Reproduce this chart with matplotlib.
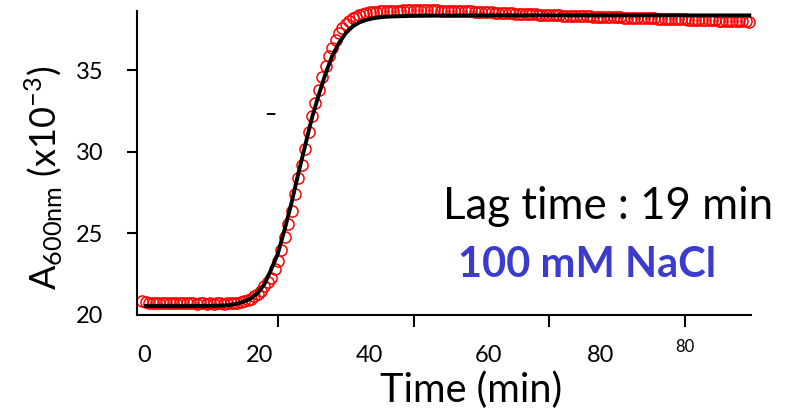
import numpy as np
import matplotlib.pyplot as plt

# absorbance readings every 0.5 min (x10^-3)
time_min = np.arange(0, 90, 0.5)
absorb = [
    20.85, 20.78, 20.75, 20.74, 20.73, 20.74, 20.72, 20.73, 20.72, 20.74,
    20.72, 20.71, 20.73, 20.72, 20.71, 20.72, 20.70, 20.71, 20.72, 20.70,
    20.71, 20.70, 20.71, 20.72, 20.70, 20.71, 20.72, 20.74, 20.76, 20.80,
    20.85, 20.92, 21.00, 21.15, 21.30, 21.50, 21.75, 22.00, 22.30, 22.80,
    23.30, 24.00, 24.80, 25.60, 26.40, 27.40, 28.40, 29.20, 30.20, 31.20,
    32.20, 33.00, 33.80, 34.60, 35.30, 35.90, 36.40, 36.90, 37.30, 37.60,
    37.85, 38.05, 38.20, 38.30, 38.40, 38.47, 38.52, 38.56, 38.58, 38.60,
    38.62, 38.63, 38.64, 38.65, 38.66, 38.67, 38.67, 38.68, 38.68, 38.68,
    38.69, 38.68, 38.69, 38.68, 38.68, 38.69, 38.68, 38.68, 38.67, 38.67,
    38.67, 38.66, 38.66, 38.65, 38.64, 38.63, 38.62, 38.62, 38.61, 38.60,
    38.59, 38.58, 38.57, 38.56, 38.55, 38.54, 38.53, 38.52, 38.51, 38.50,
    38.49, 38.48, 38.47, 38.46, 38.45, 38.44, 38.44, 38.43, 38.42, 38.41,
    38.40, 38.39, 38.39, 38.38, 38.37, 38.36, 38.36, 38.35, 38.34, 38.34,
    38.33, 38.32, 38.32, 38.31, 38.30, 38.30, 38.29, 38.28, 38.28, 38.27,
    38.26, 38.26, 38.25, 38.24, 38.24, 38.23, 38.22, 38.22, 38.21, 38.20,
    38.20, 38.19, 38.18, 38.18, 38.17, 38.16, 38.16, 38.15, 38.14, 38.14,
    38.13, 38.12, 38.12, 38.11, 38.10, 38.10, 38.09, 38.08, 38.08, 38.07,
    38.06, 38.06, 38.05, 38.04, 38.04, 38.03, 38.02, 38.02, 38.01, 38.00,
]

# fitted sigmoid
fit_t = [0.5, 5, 10, 12, 13, 14, 15, 16, 17, 18, 19, 20, 21, 22, 23, 24, 25,
         26, 27, 28, 29, 30, 31, 32, 33, 34, 35, 36, 38, 40, 45, 50, 60, 70,
         80, 89.5]
fit_a = [20.55, 20.55, 20.56, 20.58, 20.62, 20.70, 20.82, 21.02, 21.35, 21.90,
         22.80, 23.80, 25.30, 26.90, 28.70, 30.40, 32.10, 33.50, 34.80, 35.90,
         36.70, 37.30, 37.70, 37.95, 38.10, 38.20, 38.26, 38.30, 38.33, 38.35,
         38.37, 38.38, 38.38, 38.38, 38.38, 38.38]

# the x labels in the original sit off their ticks
xlab_text = ['0', '20', '40', '60', '80']
xlab_pos = [0.2, 17.3, 33.5, 51.1, 67.5]

plt.rcParams['font.family'] = ['Lato', 'DejaVu Sans']

fig = plt.figure(figsize=(7.88, 4.13), dpi=100)
ax = fig.add_axes([0.1739, 0.2373, 0.7791, 0.7361])

ax.plot(time_min, absorb, 'o', mfc='none', mec='red', ms=8, mew=1.1,
        clip_on=False, zorder=2)
ax.plot(fit_t, fit_a, color='black', lw=2.8, zorder=3, clip_on=False)

ax.set_xlim(-0.8, 89.75)
ax.set_ylim(20, 38.65)

for side in ['top', 'right']:
    ax.spines[side].set_visible(False)
for side in ['left', 'bottom']:
    ax.spines[side].set_linewidth(1.5)

ax.set_xticks([20, 40, 60, 80])
ax.set_xticklabels([])
ax.tick_params(axis='x', length=8.5, width=1.5, direction='out')
ax.set_yticks([20, 25, 30, 35])
ax.tick_params(axis='y', length=7.2, width=1.5, pad=17, labelsize=17)
ax.yaxis.get_major_ticks()[0].tick1line.set_visible(False)

trans = ax.get_xaxis_transform()
for lab, pos in zip(xlab_text, xlab_pos):
    ax.text(pos, -0.132, lab, transform=trans, ha='center', va='center',
            fontsize=17)
ax.text(80, -0.105, '80', transform=trans, ha='center', va='center',
        fontsize=12)

ax.text(18.8, 32.3, '\u2013', ha='center', va='center', fontsize=15,
        fontweight='bold')

fig.text(44 / 788, 1 - 178 / 413,
         r'A$_{\mathregular{600nm}}$ (x10$^{\mathregular{-3}}$)',
         rotation=90, ha='center', va='center', fontsize=26)
fig.text(471 / 788, 1 - 390 / 413, 'Time (min)', ha='center', va='center',
         fontsize=28.5)
fig.text(443 / 788, 1 - 219 / 413, 'Lag time : 19 min', ha='left',
         va='baseline', fontsize=31.5)
fig.text(458 / 788, 1 - 277 / 413, '100 mM NaCl', ha='left',
         va='baseline', fontsize=30, fontweight='bold', color='#3b3bce')

fig.savefig('out.png', dpi=100)
